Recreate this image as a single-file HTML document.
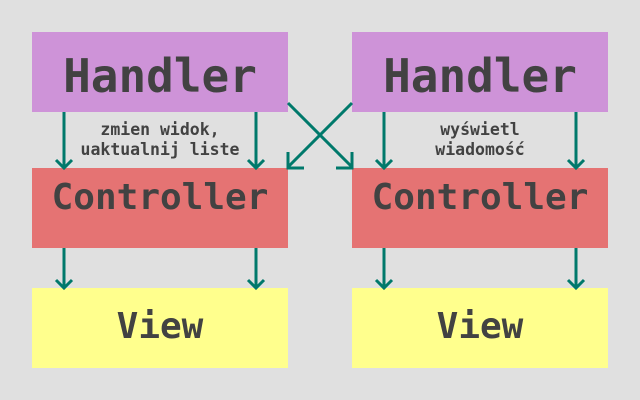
<!DOCTYPE html>
<html><head><meta charset="utf-8"><style>
body{margin:0;width:640px;height:400px;background:#e0e0e0;position:relative;overflow:hidden;font-family:"DejaVu Sans Mono","Liberation Mono",monospace;font-weight:bold;color:#424242}
.b{position:absolute;width:256px;height:80px;display:flex;align-items:center;justify-content:center;box-sizing:border-box}
.h{background:#ce93d8;font-size:46px;top:32px;padding-top:8px}
.c{background:#e57373;font-size:36px;top:168px;align-items:flex-start;padding-top:9px}
.v{background:#ffff8d;font-size:36px;top:288px;padding-bottom:4px}
.l{position:absolute;font-size:16.5px;text-align:center;width:256px;line-height:20px;top:120px}
svg{position:absolute;left:0;top:0}
</style></head><body>
<div class="b h" style="left:32px">Handler</div>
<div class="b h" style="left:352px">Handler</div>
<div class="b c" style="left:32px">Controller</div>
<div class="b c" style="left:352px">Controller</div>
<div class="b v" style="left:32px">View</div>
<div class="b v" style="left:352px">View</div>
<div class="l" style="left:32px">zmien widok,<br>uaktualnij liste</div>
<div class="l" style="left:352px">wyświetl<br>wiadomość</div>
<svg width="640" height="400" fill="none" stroke="#00796b" stroke-width="3">
<g id="a">
<path d="M64 112V168M56 160L64 168L72 160"/>
<path d="M256 112V168M248 160L256 168L264 160"/>
<path d="M64 248V288M56 280L64 288L72 280"/>
<path d="M256 248V288M248 280L256 288L264 280"/>
</g>
<use href="#a" x="320"/>
<path d="M288 103L352 167M352 152V168H336"/>
<path d="M352 103L288 167M288 152V168H304"/>
</svg>
</body></html>
